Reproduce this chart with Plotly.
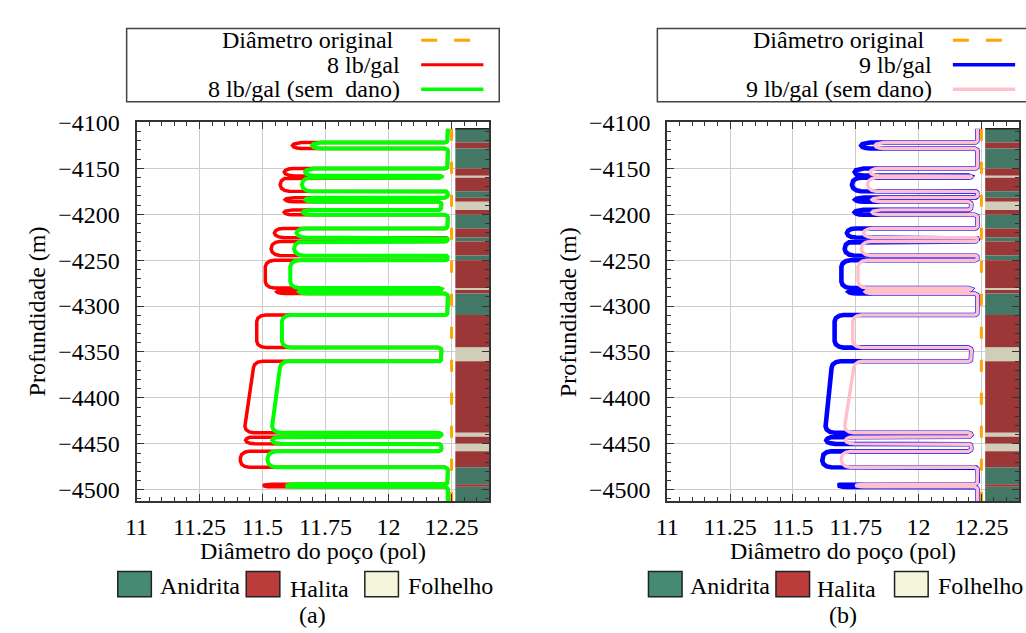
import plotly.graph_objects as go

# ---------------- data ----------------
# lithology column (depth in m, positive downward)
layer_top = [4107.0, 4122.0, 4128.4, 4150.3, 4158.0, 4160.2, 4175.0, 4182.0, 4186.4,
             4195.3, 4200.6, 4215.5, 4225.4, 4229.7, 4244.9, 4250.2, 4280.4, 4282.5,
             4286.3, 4309.7, 4345.2, 4360.1, 4438.0, 4442.3, 4450.0, 4458.2, 4475.5,
             4494.0, 4496.8]
layer_bottom = [4122.0, 4128.4, 4150.3, 4158.0, 4160.2, 4175.0, 4182.0, 4186.4, 4195.3,
                4200.6, 4215.5, 4225.4, 4229.7, 4244.9, 4250.2, 4280.4, 4282.5, 4286.3,
                4309.7, 4345.2, 4360.1, 4438.0, 4442.3, 4450.0, 4458.2, 4475.5, 4494.0,
                4496.8, 4512.4]
layer_type = ["Anidrita", "Halita", "Anidrita", "Halita", "Folhelho", "Halita", "Anidrita",
              "Halita", "Folhelho", "Halita", "Anidrita", "Halita", "Anidrita", "Halita",
              "Anidrita", "Halita", "Folhelho", "Halita", "Anidrita", "Halita", "Folhelho",
              "Halita", "Folhelho", "Halita", "Folhelho", "Halita", "Anidrita", "Halita",
              "Anidrita"]

# well diameter (pol) in the halite layers (top / bottom of each layer)
red_top = [11.619, 11.586, 11.570, 11.590, 11.586, 11.547, 11.534, 11.511, 11.557, 11.477, 11.464, 11.433, 11.412, 11.503]
red_bot = [11.619, 11.586, 11.570, 11.590, 11.586, 11.547, 11.534, 11.511, 11.557, 11.477, 11.430, 11.433, 11.412, 11.503]
green_top = [11.697, 11.669, 11.656, 11.670, 11.660, 11.635, 11.625, 11.610, 11.646, 11.577, 11.569, 11.538, 11.520, 11.593]
green_bot = [11.697, 11.669, 11.656, 11.670, 11.660, 11.635, 11.625, 11.610, 11.646, 11.577, 11.538, 11.538, 11.520, 11.593]
blue_top = [11.772, 11.746, 11.735, 11.748, 11.746, 11.715, 11.706, 11.693, 11.722, 11.666, 11.654, 11.633, 11.617, 11.680]
blue_bot = [11.772, 11.746, 11.735, 11.748, 11.746, 11.715, 11.706, 11.693, 11.722, 11.666, 11.630, 11.633, 11.617, 11.680]
pink_top = [11.827, 11.807, 11.797, 11.815, 11.815, 11.781, 11.772, 11.759, 11.788, 11.738, 11.742, 11.709, 11.693, 11.750]
pink_bot = [11.827, 11.807, 11.797, 11.815, 11.815, 11.781, 11.772, 11.759, 11.788, 11.738, 11.706, 11.709, 11.693, 11.750]

d_anidrita = 12.235
d_folhelho = 12.21
d_original = 12.25

x_tickvals = [11, 11.25, 11.5, 11.75, 12, 12.25]
x_ticktext = ["11", "11.25", "11.5", "11.75", "12", "12.25"]
y_tickvals = [-4100, -4150, -4200, -4250, -4300, -4350, -4400, -4450, -4500]
y_ticktext = ["\u22124100", "\u22124150", "\u22124200", "\u22124250", "\u22124300",
              "\u22124350", "\u22124400", "\u22124450", "\u22124500"]

col_litho = {"Anidrita": "#437866", "Halita": "#9C3737", "Folhelho": "#D0CDB9"}
leg_litho = {"Anidrita": "#458B74", "Halita": "#BC3C3C", "Folhelho": "#F5F5DC"}

FONT = "Liberation Serif"
W, H = 1026, 633


def build_path(h_top, h_bot):
    dtop, dbot = [], []
    k = 0
    for t in layer_type:
        if t == "Halita":
            dtop.append(h_top[k]); dbot.append(h_bot[k]); k += 1
        elif t == "Anidrita":
            dtop.append(d_anidrita); dbot.append(d_anidrita)
        else:
            dtop.append(d_folhelho); dbot.append(d_folhelho)
    xs, ys = [], []
    n = len(layer_type)
    for i in range(n):
        t, b = layer_top[i], layer_bottom[i]
        half = (b - t) / 2.0
        is_h = layer_type[i] == "Halita"
        r0 = 7.0 if is_h else 3.0
        h0 = 0.035 if is_h else 0.012
        # corner at top of layer
        if i == 0:
            xs.append(dtop[i]); ys.append(-t)
        else:
            D = dtop[i]
            prev = dbot[i - 1]
            s = 1 if D > prev else -1
            r = min(r0, half)
            h = min(h0, abs(D - prev) / 2.0)
            xs += [D - s * h, D - s * 0.5 * h, D - s * 0.134 * h, D]
            ys += [-t, -(t + 0.134 * r), -(t + 0.5 * r), -(t + r)]
        # corner at bottom of layer
        if i == n - 1:
            xs.append(dbot[i]); ys.append(-b)
        else:
            D = dbot[i]
            nxt = dtop[i + 1]
            s = 1 if nxt > D else -1
            r = min(r0, half)
            h = min(h0, abs(nxt - D) / 2.0)
            xs += [D, D + s * 0.134 * h, D + s * 0.5 * h, D + s * h]
            ys += [-(b - r), -(b - 0.5 * r), -(b - 0.134 * r), -b]
    return xs, ys


fig = go.Figure()

panels = [
    ("x", "y", (red_top, red_bot, "#FF0000", 3.5), (green_top, green_bot, "#00FF00", 4.0)),
    ("x2", "y2", (blue_top, blue_bot, "#0000FF", 4.6), (pink_top, pink_bot, "#FFC0CB", 3.4)),
]

for xa, ya, s1, s2 in panels:
    fig.add_trace(go.Scatter(x=[d_original, d_original], y=[-layer_top[0], -layer_bottom[-1]],
                             mode="lines", line=dict(color="#FFA500", width=3, dash="12px,21px"),
                             xaxis=xa, yaxis=ya, showlegend=False, hoverinfo="skip"))
    for (ht, hb, col, wd) in (s1, s2):
        px_, py_ = build_path(ht, hb)
        fig.add_trace(go.Scatter(x=px_, y=py_, mode="lines", line=dict(color=col, width=wd),
                                 xaxis=xa, yaxis=ya, showlegend=False, hoverinfo="skip"))
    # lithology column
    for t, b, lt in zip(layer_top, layer_bottom, layer_type):
        fig.add_shape(type="rect", xref=xa, yref=ya, x0=12.265, x1=12.4, y0=-t, y1=-b,
                      fillcolor=col_litho[lt], line=dict(width=0), layer="between")
    fig.add_shape(type="line", xref=xa, yref=ya, x0=12.265, x1=12.4, y0=-layer_top[0], y1=-layer_top[0],
                  line=dict(color="#222", width=1.5), layer="between")

ax_common = dict(showline=True, linecolor="#333", linewidth=2, mirror="allticks",
                 ticks="inside", ticklen=7, tickwidth=1, tickcolor="#333",
                 showgrid=True, gridcolor="#cccccc", gridwidth=1, zeroline=False,
                 tickfont=dict(family=FONT, size=24, color="black"))
xa_common = dict(ax_common, range=[11, 12.4], tickmode="array", tickvals=x_tickvals,
                 ticktext=x_ticktext, ticklabelstandoff=3,
                 minor=dict(dtick=0.05, tick0=11, ticks="inside", ticklen=4, tickcolor="#333", showgrid=False))
ya_common = dict(ax_common, range=[-4512.4, -4100], tickmode="array", tickvals=y_tickvals,
                 ticktext=y_ticktext, ticklabelstandoff=10,
                 minor=dict(dtick=10, tick0=-4100, ticks="inside", ticklen=4, tickcolor="#333", showgrid=False))

ydom = [1 - 500 / H, 1 - 112 / H]
fig.update_layout(
    width=W, height=H, margin=dict(l=0, r=0, t=0, b=0),
    paper_bgcolor="white", plot_bgcolor="white",
    font=dict(family=FONT, size=24, color="black"),
    xaxis=dict(xa_common, domain=[126 / W, 483 / W], anchor="y"),
    yaxis=dict(ya_common, domain=ydom, anchor="x"),
    xaxis2=dict(xa_common, domain=[663 / W, 1019 / W], anchor="y2"),
    yaxis2=dict(ya_common, domain=ydom, anchor="x2"),
    showlegend=False,
)


def PX(x):
    return x / W


def PY(y):
    return 1 - y / H


def add_text(txt, x, y, xanchor="center", size=24, angle=0):
    fig.add_annotation(text=txt, x=PX(x), y=PY(y), xref="paper", yref="paper",
                       xanchor=xanchor, yanchor="middle", showarrow=False, textangle=angle,
                       font=dict(family=FONT, size=size, color="black"))


# manual legends
legend_specs = [
    (116, 493, 389, 395, 414, 477, ["Diâmetro original", "8 lb/gal", "8 lb/gal (sem  dano)"],
     [("#FFA500", 3, "16px,17px"), ("#FF0000", 3, "solid"), ("#00FF00", 3.5, "solid")]),
    (653, 1040, 926, 933, 952, 1015, ["Diâmetro original", "9 lb/gal", "9 lb/gal (sem dano)"],
     [("#FFA500", 3, "16px,17px"), ("#0000FF", 3.5, "solid"), ("#FFC0CB", 3.5, "solid")]),
]
for (bx0, bx1, tx0, tx1, lx0, lx1, labels, styles) in legend_specs:
    fig.add_shape(type="rect", xref="paper", yref="paper", x0=PX(bx0), x1=PX(bx1), y0=PY(91), y1=PY(16),
                  line=dict(color="#444", width=1.5), fillcolor="white")
    for j, (lab, (c, w, d)) in enumerate(zip(labels, styles)):
        yy = 28 + 25 * j
        add_text(lab, tx0 if j == 0 else tx1, yy, xanchor="right")
        fig.add_shape(type="line", xref="paper", yref="paper", x0=PX(lx0), x1=PX(lx1),
                      y0=PY(yy), y1=PY(yy), line=dict(color=c, width=w, dash=d))

litho_leg = [
    ([107, 237, 357], [148, 279, 399]),
    ([644, 773, 893], [684, 812, 935]),
]
for sq, tx in litho_leg:
    for name, sx, txx, ty in zip(["Anidrita", "Halita", "Folhelho"], sq, tx, [587, 590, 587]):
        fig.add_shape(type="rect", xref="paper", yref="paper", x0=PX(sx), x1=PX(sx + 34),
                      y0=PY(598), y1=PY(572), fillcolor=leg_litho[name], line=dict(color="#222", width=1.5))
        add_text(name, txx, ty, xanchor="left")

# axis titles and captions
for cx, ytx, cap in [(304.5, 25, "(a)"), (841, 562, "(b)")]:
    add_text("Diâmetro do poço (pol)", cx, 551)
    add_text("Profundidade (m)", ytx, 306, angle=-90)
    add_text(cap, cx, 617)

fig.write_html("out.html", config={"displayModeBar": False, "staticPlot": True},
               post_script="document.body.style.margin='0';document.body.style.overflow='hidden';")
